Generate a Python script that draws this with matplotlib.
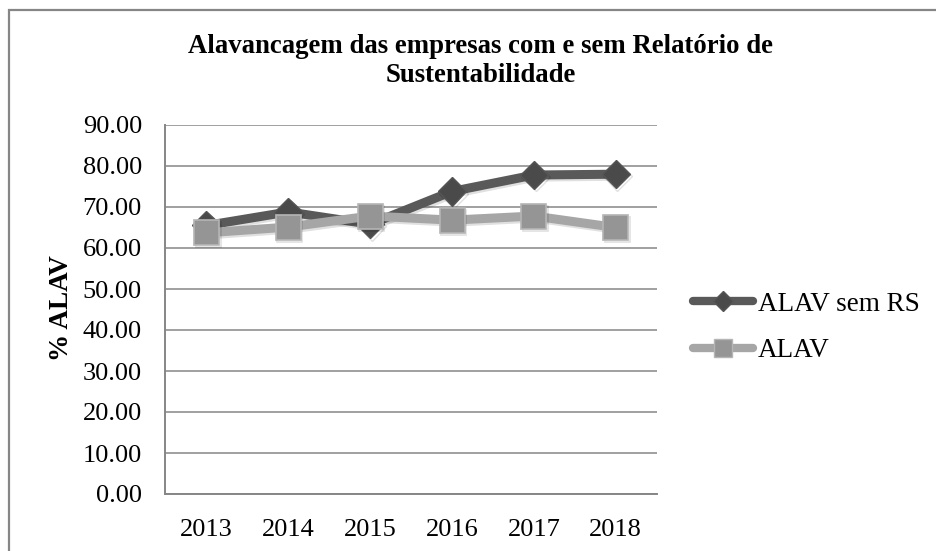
import matplotlib
matplotlib.use("Agg")
import matplotlib.pyplot as plt
from matplotlib.lines import Line2D
from matplotlib.patches import Rectangle
import matplotlib.patheffects as pe

years = ["2013", "2014", "2015", "2016", "2017", "2018"]
alav_sem_rs = [65.5, 68.8, 65.8, 73.8, 77.8, 78.0]
alav = [63.7, 65.1, 67.8, 66.8, 67.8, 65.0]
yticks = [0, 10, 20, 30, 40, 50, 60, 70, 80, 90]
series_names = ["ALAV sem RS", "ALAV"]
title = "Alavancagem das empresas com e sem Relatório de\nSustentabilidade"
ylabel = "% ALAV"

plt.rcParams['font.family'] = ['Liberation Serif', 'DejaVu Serif']

W, H = 937, 551
fig = plt.figure(figsize=(W / 100, H / 100), dpi=100)
fig.patch.set_facecolor("white")

# outer border of chart area
fig.add_artist(Rectangle((9.5 / W, -0.1), 1.1, (H - 9.5) / H + 0.1, transform=fig.transFigure,
                         fill=False, edgecolor="#868686", linewidth=1.6))

ax = fig.add_axes([165.5 / W, 1 - 494 / H, (656.7 - 165.5) / W, (494 - 125) / H])
x = list(range(len(years)))

dark = "#595959"
dark_m = "#4a4a4a"
light = "#a6a6a6"
light_m = "#959595"
shadow = [pe.SimpleLineShadow(offset=(1.2, -1.5), alpha=0.12, shadow_color="black"), pe.Normal()]

ax.plot(x, alav_sem_rs, color=dark, linewidth=6.5, marker="D", markersize=14.5,
        markerfacecolor=dark_m, markeredgecolor="#555555", markeredgewidth=1,
        solid_capstyle="round", zorder=3, path_effects=shadow)
ax.plot(x, alav, color=light, linewidth=6.5, marker="s", markersize=18,
        markerfacecolor=light_m, markeredgecolor="#b5b5b5", markeredgewidth=1.2,
        solid_capstyle="round", zorder=4, path_effects=shadow)

ax.set_xlim(-0.5, len(years) - 0.5)
ax.set_ylim(0, 90)
ax.set_yticks(yticks)
ax.set_yticklabels([f"{v:.2f}" for v in yticks])
ax.set_xticks(x)
ax.set_xticklabels(years)
ax.tick_params(axis="both", length=0, labelsize=19, colors="black")
ax.tick_params(axis="y", pad=17)
ax.tick_params(axis="x", pad=18)
ax.grid(axis="y", color="#868686", linewidth=1.1)
ax.set_axisbelow(True)
for s in ["top", "right"]:
    ax.spines[s].set_visible(False)
for s in ["left", "bottom"]:
    ax.spines[s].set_color("#868686")
    ax.spines[s].set_linewidth(1.4)

fig.text(481 / W, 1 - 61 / H, title, ha="center", va="center", fontsize=19.3,
         fontweight="bold", linespacing=1.2)
fig.text(62 / W, 1 - 308 / H, ylabel, ha="center", va="center", rotation=90,
         fontsize=19.5, fontweight="bold")

h1 = Line2D([], [], color=dark, linewidth=6, marker="D", markersize=10,
            markerfacecolor=dark_m, markeredgecolor="#555555", solid_capstyle="round")
h2 = Line2D([], [], color=light, linewidth=6, marker="s", markersize=13,
            markerfacecolor=light_m, markeredgecolor="#b5b5b5", solid_capstyle="round")
fig.legend([h1, h2], series_names, loc="center left",
           bbox_to_anchor=(693 / W, 1 - 327.5 / H), frameon=False, fontsize=19.5,
           handlelength=2.2, handletextpad=0.2, borderpad=0, borderaxespad=0,
           labelspacing=0.8)

fig.savefig("out.png", dpi=100)
